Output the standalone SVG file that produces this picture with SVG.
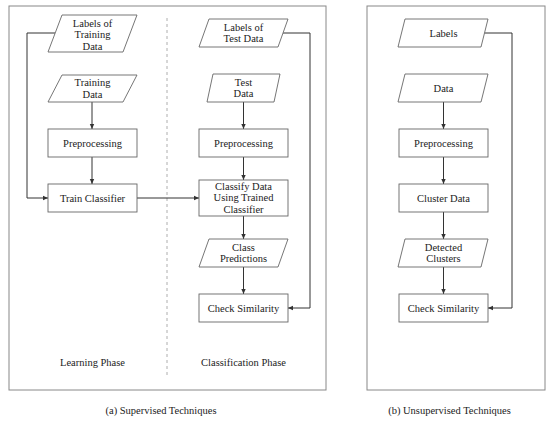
<svg xmlns="http://www.w3.org/2000/svg" width="550" height="421" viewBox="0 0 550 421">
<style>
.frame{fill:none;stroke:#888;stroke-width:1}
.node{fill:#fff;stroke:#666;stroke-width:0.9}
text{font-family:'Liberation Serif','Times New Roman','DejaVu Serif',serif;font-size:10.5px;fill:#222;text-anchor:middle}
.c{fill:none;stroke:#333;stroke-width:1}
</style>
<defs>
<marker id="ah" markerWidth="6" markerHeight="6" refX="5" refY="3" orient="auto" markerUnits="userSpaceOnUse">
<path d="M0,0.8 L5,3 L0,5.2 Z" fill="#333"/>
</marker>
</defs>
<rect width="550" height="421" fill="#fff"/>
<rect class="frame" x="9" y="6" width="317" height="384"/>
<rect class="frame" x="367" y="6" width="178" height="384"/>
<line x1="167" y1="18" x2="167" y2="375" stroke="#999" stroke-width="0.8" stroke-dasharray="3,3"/>

<g id="connectors">
<line class="c" x1="92" y1="102" x2="92" y2="129" marker-end="url(#ah)"/>
<line class="c" x1="92" y1="157" x2="92" y2="184" marker-end="url(#ah)"/>
<polyline class="c" points="55,33 27,33 27,198 48,198" marker-end="url(#ah)"/>
<line class="c" x1="137" y1="198" x2="199" y2="198" marker-end="url(#ah)"/>
<line class="c" x1="243.5" y1="102" x2="243.5" y2="129" marker-end="url(#ah)"/>
<line class="c" x1="243.5" y1="157" x2="243.5" y2="180" marker-end="url(#ah)"/>
<line class="c" x1="243.5" y1="216" x2="243.5" y2="239" marker-end="url(#ah)"/>
<line class="c" x1="243.5" y1="267" x2="243.5" y2="294" marker-end="url(#ah)"/>
<polyline class="c" points="283,33 310,33 310,308 288,308" marker-end="url(#ah)"/>
<line class="c" x1="443.5" y1="102" x2="443.5" y2="129" marker-end="url(#ah)"/>
<line class="c" x1="443.5" y1="157" x2="443.5" y2="184" marker-end="url(#ah)"/>
<line class="c" x1="443.5" y1="212" x2="443.5" y2="239" marker-end="url(#ah)"/>
<line class="c" x1="443.5" y1="267" x2="443.5" y2="294" marker-end="url(#ah)"/>
<polyline class="c" points="484.5,33 512,33 512,308 488,308" marker-end="url(#ah)"/>
</g>

<g id="labels-training">
<polygon class="node" points="62,15 137,15 123,52 48,52"/>
<text x="92.5" y="26.5">Labels of</text>
<text x="92.5" y="38">Training</text>
<text x="92.5" y="49.5">Data</text>
</g>
<g id="training-data">
<polygon class="node" points="62,75 137,75 123,102 48,102"/>
<text x="92.5" y="86">Training</text>
<text x="92.5" y="97.5">Data</text>
</g>
<g id="preprocessing-a">
<rect class="node" x="48" y="129" width="89" height="28"/>
<text x="92.5" y="146.5">Preprocessing</text>
</g>
<g id="train-classifier">
<rect class="node" x="48" y="184" width="89" height="28"/>
<text x="92.5" y="201.5">Train Classifier</text>
</g>

<g id="labels-test">
<polygon class="node" points="209,19 288,19 278,47 199,47"/>
<text x="243.5" y="30.5">Labels of</text>
<text x="243.5" y="42">Test Data</text>
</g>
<g id="test-data">
<polygon class="node" points="213,74 280,74 274,102 207,102"/>
<text x="243.5" y="85.5">Test</text>
<text x="243.5" y="97">Data</text>
</g>
<g id="preprocessing-b">
<rect class="node" x="199" y="129" width="89" height="28"/>
<text x="243.5" y="146.5">Preprocessing</text>
</g>
<g id="classify-data">
<rect class="node" x="199" y="180" width="89" height="36"/>
<text x="243.5" y="189.5">Classify Data</text>
<text x="243.5" y="201">Using Trained</text>
<text x="243.5" y="212.5">Classifier</text>
</g>
<g id="class-predictions">
<polygon class="node" points="209,239 288,239 278,267 199,267"/>
<text x="243.5" y="250.5">Class</text>
<text x="243.5" y="262">Predictions</text>
</g>
<g id="check-similarity-a">
<rect class="node" x="199" y="294" width="89" height="28"/>
<text x="243.5" y="311.5">Check Similarity</text>
</g>

<g id="labels">
<polygon class="node" points="405,19 488,19 481,47 398,47"/>
<text x="443.5" y="36.5">Labels</text>
</g>
<g id="data">
<polygon class="node" points="405,74 488,74 481,102 398,102"/>
<text x="443.5" y="91.5">Data</text>
</g>
<g id="preprocessing-c">
<rect class="node" x="399" y="129" width="89" height="28"/>
<text x="443.5" y="146.5">Preprocessing</text>
</g>
<g id="cluster-data">
<rect class="node" x="399" y="184" width="89" height="28"/>
<text x="443.5" y="201.5">Cluster Data</text>
</g>
<g id="detected-clusters">
<polygon class="node" points="405,239 488,239 481,267 398,267"/>
<text x="443.5" y="250.5">Detected</text>
<text x="443.5" y="262">Clusters</text>
</g>
<g id="check-similarity-b">
<rect class="node" x="399" y="294" width="89" height="28"/>
<text x="443.5" y="311.5">Check Similarity</text>
</g>

<text x="92.5" y="366">Learning Phase</text>
<text x="243.5" y="366">Classification Phase</text>
<text x="161" y="414">(a) Supervised Techniques</text>
<text x="449.5" y="414">(b) Unsupervised Techniques</text>
</svg>
